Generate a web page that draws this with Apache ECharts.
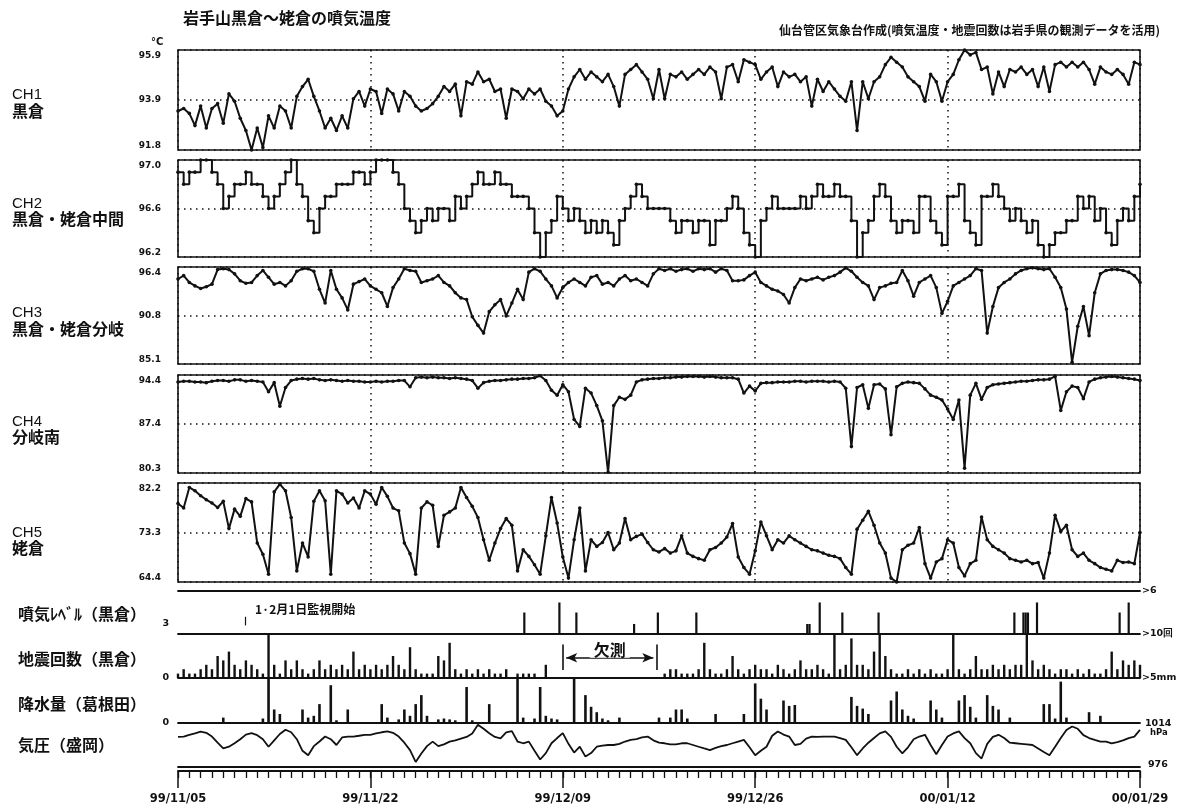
<!DOCTYPE html>
<html><head><meta charset="utf-8">
<script src="https://cdn.jsdelivr.net/npm/echarts@6/dist/echarts.min.js"></script>
<style>html,body{margin:0;padding:0;background:#fff}#c{width:1182px;height:807px}</style>
</head><body><div id="c"></div>
<script>
// ---------------- data (samples every half day from 99/11/05) ----------------
const STEP = 0.5;
const DAYS = 85;
const dateLabels = ['99/11/05','99/11/22','99/12/09','99/12/26','00/01/12','00/01/29'];

const ch1Ticks = ['91.8','93.9','95.9'];
const ch2Ticks = ['96.2','96.6','97.0'];
const ch3Ticks = ['85.1','90.8','96.4'];
const ch4Ticks = ['80.3','87.4','94.4'];
const ch5Ticks = ['64.4','73.3','82.2'];

const ch1 = [
93.4,93.5,93.3,92.8,93.6,92.7,93.5,93.7,92.9,94.1,
93.8,93.1,92.6,91.8,92.7,91.9,93.2,92.7,93.6,93.4,
92.7,94.0,94.4,94.7,94.0,93.4,92.7,93.1,92.6,93.2,
92.7,93.9,94.2,93.6,94.3,94.2,93.3,94.3,94.1,93.4,
94.2,94.0,93.6,93.4,93.5,93.7,94.0,94.4,94.2,94.5,
93.2,94.6,94.5,95.0,94.6,94.7,94.2,94.3,93.1,94.3,
94.2,93.9,94.3,94.1,94.3,93.8,93.6,93.2,93.4,94.3,
94.8,95.1,94.7,95.0,94.8,94.6,94.9,94.4,93.6,94.9,
95.1,95.3,95.0,94.7,93.9,95.1,93.9,94.9,94.8,95.0,
94.7,94.9,95.1,94.9,95.2,95.0,93.9,95.2,95.3,94.6,
95.5,95.4,95.3,94.7,95.0,95.2,94.4,95.0,94.8,94.9,
94.6,94.8,93.6,94.7,94.2,94.6,94.3,94.0,93.8,94.6,
92.6,94.6,93.9,94.6,94.8,95.3,95.6,95.4,95.2,94.8,
94.6,94.4,93.8,94.9,94.6,93.8,94.6,94.9,95.5,95.9,
95.7,95.8,95.1,95.2,94.1,95.0,94.4,95.1,95.0,95.2,
94.9,95.1,94.4,95.2,94.2,95.3,95.4,95.2,95.4,95.2,
95.4,95.1,94.5,95.2,95.0,94.9,95.1,94.9,94.5,95.4,
95.3];

const ch2 = [
96.9,96.8,96.9,96.9,97.0,97.0,96.9,96.8,96.6,96.7,
96.8,96.8,96.9,96.8,96.8,96.7,96.6,96.7,96.8,96.9,
97.0,96.8,96.7,96.5,96.4,96.6,96.7,96.7,96.8,96.8,
96.8,96.9,96.9,96.8,96.9,97.0,97.0,97.0,96.9,96.8,
96.6,96.5,96.4,96.5,96.6,96.5,96.6,96.6,96.5,96.7,
96.6,96.7,96.8,96.9,96.8,96.8,96.9,96.8,96.8,96.7,
96.7,96.7,96.6,96.4,96.2,96.4,96.5,96.7,96.6,96.5,
96.6,96.5,96.4,96.5,96.4,96.5,96.4,96.3,96.5,96.6,
96.7,96.8,96.7,96.6,96.6,96.6,96.6,96.5,96.4,96.5,
96.5,96.4,96.5,96.5,96.3,96.5,96.5,96.6,96.7,96.6,
96.4,96.3,96.2,96.5,96.6,96.7,96.6,96.6,96.6,96.6,
96.7,96.6,96.7,96.8,96.7,96.7,96.8,96.7,96.7,96.5,
96.2,96.4,96.5,96.7,96.8,96.7,96.5,96.4,96.5,96.5,
96.4,96.7,96.7,96.5,96.4,96.3,96.7,96.7,96.8,96.5,
96.4,96.3,96.7,96.7,96.8,96.7,96.6,96.5,96.6,96.5,
96.4,96.5,96.3,96.2,96.3,96.4,96.4,96.5,96.5,96.7,
96.6,96.7,96.5,96.6,96.4,96.3,96.5,96.6,96.5,96.7,
96.8];

const ch3 = [
95.0,95.4,94.6,94.2,93.9,94.1,94.4,96.1,96.2,96.1,
95.6,94.8,94.5,94.6,95.4,96.0,95.2,94.4,94.6,94.2,
94.8,95.9,96.2,96.2,95.9,93.8,92.2,96.0,93.8,92.8,
91.4,94.4,94.7,95.0,94.2,93.8,93.4,91.8,94.0,95.0,
96.2,96.0,95.9,94.6,94.8,95.0,95.4,94.6,94.2,93.4,
92.8,92.6,90.6,89.6,88.7,91.2,92.0,92.6,90.7,92.2,
93.8,92.6,95.8,96.2,95.9,95.0,94.2,92.8,94.0,94.6,
95.0,94.6,94.2,95.2,95.4,94.4,94.6,94.2,95.0,95.4,
94.8,95.0,94.6,94.2,95.6,96.2,96.0,96.2,95.9,96.1,
96.2,95.9,96.2,96.1,96.2,95.8,96.2,96.0,94.8,94.8,
94.9,95.4,95.8,94.6,94.2,93.8,93.6,93.2,92.2,94.0,
95.0,94.8,95.0,95.2,94.9,95.2,95.4,95.8,96.3,95.9,
95.2,94.6,94.2,92.6,94.0,94.2,94.5,94.6,96.0,94.8,
93.0,94.6,95.0,95.4,94.0,91.0,92.4,94.2,94.6,95.0,
95.4,96.2,96.0,88.7,91.8,94.0,94.6,95.0,95.6,96.0,
96.2,96.3,96.2,96.1,96.2,95.2,94.0,91.5,85.3,89.5,
91.8,88.4,93.4,95.6,96.0,96.1,96.1,96.0,95.8,95.4,
94.6];

const ch4 = [
93.4,93.5,93.5,93.4,93.4,93.3,93.5,93.6,93.6,93.5,
93.7,93.7,93.5,93.6,93.5,93.4,92.0,93.3,89.9,92.6,
93.6,93.8,93.9,93.8,93.9,93.7,93.6,93.7,93.6,93.5,
93.6,93.5,93.5,93.4,93.4,93.5,93.4,93.5,93.5,93.6,
93.6,92.7,94.0,94.1,94.0,94.1,94.0,94.0,93.9,94.0,
93.9,93.8,93.6,92.5,93.3,93.5,93.6,93.6,93.7,93.8,
93.8,93.9,93.9,94.0,94.3,93.6,92.2,91.5,93.0,92.0,
88.0,87.0,92.5,91.8,90.0,87.8,80.4,90.0,91.2,90.9,
91.5,93.4,93.7,93.8,93.9,93.9,94.0,94.0,94.1,94.1,
94.2,94.2,94.2,94.1,94.2,94.1,94.0,94.0,94.0,93.8,
91.8,92.8,92.1,93.2,93.3,93.3,93.4,93.4,93.4,93.5,
93.5,93.4,93.5,93.5,93.5,93.4,93.5,93.4,92.5,84.1,
92.6,93.0,89.6,93.0,93.1,92.4,85.8,92.7,93.2,93.4,
93.3,93.2,92.4,91.5,91.2,90.8,89.5,88.0,90.8,81.0,
91.5,93.2,90.9,92.6,93.0,93.1,93.2,93.3,93.4,93.5,
93.5,93.6,93.7,93.7,93.8,94.2,89.3,92.0,92.8,92.6,
91.0,93.4,93.8,94.0,94.1,94.2,94.1,94.0,93.9,93.8,
93.6];

const ch5 = [
78.5,77.7,81.4,80.8,79.9,79.2,78.6,77.8,78.9,74.0,
77.5,76.2,79.4,78.8,71.4,69.4,65.8,80.6,82.0,80.8,
76.0,66.4,71.4,68.9,78.9,80.8,79.0,65.8,80.8,80.2,
78.6,79.5,77.7,80.8,80.2,78.4,81.4,79.8,77.7,77.2,
71.4,69.5,65.8,77.7,78.8,78.2,70.8,76.4,77.0,77.7,
81.4,79.6,78.0,76.0,72.0,68.3,71.4,74.0,75.8,74.6,
66.4,70.2,69.0,67.5,65.8,72.7,79.6,75.0,68.9,65.1,
72.0,77.7,66.4,72.0,70.8,71.5,73.3,70.2,71.4,75.8,
72.0,72.6,73.0,71.5,70.2,69.8,70.4,69.6,70.0,72.7,
69.6,69.0,68.6,68.3,70.2,70.6,71.4,72.5,74.9,68.9,
67.0,65.8,70.0,75.2,72.7,70.2,72.0,71.4,72.7,72.0,
71.4,70.8,70.2,70.0,69.6,69.2,69.0,68.6,67.0,65.8,
73.9,75.5,77.1,74.6,71.4,69.6,65.1,64.4,70.2,71.0,
71.4,74.2,67.7,65.1,68.0,68.6,72.0,71.4,67.0,65.5,
67.7,68.3,76.1,72.0,70.8,70.2,69.6,68.6,68.3,68.0,
68.3,67.7,67.9,65.1,69.6,76.4,73.5,74.6,70.2,69.0,
69.6,68.3,67.7,67.0,66.7,66.4,68.3,67.9,68.0,67.7,
73.3];

// 噴気レベル events: day offset and level
const levelDays   = [30.6,33.7,35.2,40.3,42.4,45.8,55.6,55.8,56.7,58.7,61.9,73.9,74.7,74.9,75.1,75.9,83.2,84.0];
const levelValues = [4.5, 5.2, 4.5, 3.7, 4.5, 4.5, 3.7, 3.7, 5.2, 4.5, 4.5, 4.5, 4.5, 4.5, 4.5, 5.2, 4.5, 5.2];

// 地震回数 (null = 欠測)
const quakes = [
1,2,1,1,2,3,2,5,4,6,
3,2,4,3,2,1,10,3,1,4,
2,4,2,1,2,4,2,3,2,3,
2,6,2,3,2,3,2,3,5,3,
2,7,2,1,1,1,5,4,8,2,
1,2,1,2,1,2,1,1,2,0,
1,1,1,1,0,3,0,null,null,null,
null,null,null,null,null,null,null,null,null,null,
null,null,null,null,null,null,1,2,2,1,
1,1,2,8,2,1,1,2,5,2,
1,2,3,2,2,1,3,2,1,2,
4,2,2,3,2,1,10,2,3,9,
3,3,2,6,10,5,2,1,1,2,
1,2,1,2,1,1,2,10,2,1,
2,5,2,2,3,2,3,2,3,3,
10,4,2,3,2,1,2,2,1,2,
1,2,1,1,2,6,2,4,3,4,
3];

// 降水量 (mm)
const rain = [
0,0,0,0,0,0,0,0,0.6,0,
0,0,0,0,0,0.5,5,1.5,1,0,
0,0,1.5,0.6,0.8,2.1,0,4.2,0.3,0,
1.5,0,0,0,0,0,2.1,0.6,0,0.4,
1.5,0.8,2.1,3.1,0.8,0,0.4,0.5,0.4,0.3,
0,4,0.3,0,0,2.1,0,0,0,0,
5,0.6,0,0.5,4,0.8,0.5,0.4,0,0,
5,0,3.1,1.8,1.2,0.5,0.3,0,0.6,0,
0,0,0,0,0,0.6,0,0.6,1.5,1.5,
0.5,0,0,0,0,1,0,0,0,0,
1,0,4.4,2.7,1.5,0,0,2.5,1.9,2.0,
0,0,0,0,0,0,0,0,0,2.9,
1.9,1.6,1.0,0,0,0,2.5,3.5,1.5,0.8,
0.5,0,0,2.5,1.5,0.6,0,0,2.5,3.1,
1.8,0.6,0,3.1,1.9,1.5,0,0.6,0,0,
0,0,0,2.1,2.1,0.5,4.6,0.6,0,0,
0,1.2,0,0.8,0,0,0,0,0,0,
0];

// 気圧 (hPa)
const pressure = [
1002,1002.3,1003.8,1005,1006.5,1005.5,1002.3,997,992.1,993.5,
996.5,1000,1004,1005.2,1003.5,1000,993.5,999,1004.5,1008.2,
1006,1000,990,986.2,994,998,1002.3,1000,995,1001.5,
1002.3,1002.3,1003,1003.8,1003.8,1005,1006,1006.7,1005.5,1002.3,
997,990.6,980.4,987.7,994,997.9,994,995.5,997.9,999,
1000.5,1002,1005,1012.5,1009,1005.2,1002,1000.8,1006,1007,
998,996.5,997.9,990,982.5,988,996.5,1001,1005.2,996,
988.5,993.5,985,988,993.5,994.5,995,995,996,998,
999.4,1000,1001.5,1002.3,999,997,996.5,995.5,995.5,996.5,
996.5,995,993.5,992,990.6,992.5,994,995,996.5,998,
999.4,993,986.2,990,993.5,1003,1006.7,1004,1002.3,995,
996,1000.5,1002.3,1002,1002.3,1002.3,1002.3,1001,999.4,993,
986.2,992,997,1001,1005,1006.7,1002,993.5,987.7,993,
1000,1002.3,1003.8,995,987,995,1002.3,1005,1006.7,1001,
996.5,988,983.3,996,1002,1003.8,1001,997,996.5,996,
995.5,995,992,989,986.2,993.5,1001,1008,1011,1009,
1003.5,1001,999.4,998,997.9,996.5,997.5,999,1001,1002.3,
1008];

const chNames = [['CH1','黒倉'],['CH2','黒倉・姥倉中間'],['CH3','黒倉・姥倉分岐'],['CH4','分岐南'],['CH5','姥倉']];
const barNames = ['噴気ﾚﾍﾞﾙ（黒倉）','地震回数（黒倉）','降水量（葛根田）','気圧（盛岡）'];

// ---------------- chart ----------------
const INK = '#111';
const NUM = 'DejaVu Sans';
const JP = 'Noto Sans CJK JP';
const L = 178, R = 42;
const chLayout = [[50,100],[160,97],[267,97],[375,98],[483,99]];
const barLayout = [[591,43],[634,44],[678,45],[723,44]];
const chSeries = [ch1,ch2,ch3,ch4,ch5];
const chTicks = [ch1Ticks,ch2Ticks,ch3Ticks,ch4Ticks,ch5Ticks];

const pairs = arr => arr.map((v,i)=>[i*STEP, v]);

const grid = [];
chLayout.forEach(([t,h])=>grid.push({left:L,right:R,top:t,height:h,show:true,borderColor:INK,borderWidth:1.6,backgroundColor:'transparent'}));
barLayout.forEach(([t,h])=>grid.push({left:L,right:R,top:t,height:h}));
grid.push({left:L,right:R,top:770,height:1});

const dotted = {color:INK,width:1.5,type:[1.5,4.5]};
const xAxis = [];
for (let i=0;i<5;i++) xAxis.push({gridIndex:i,type:'value',min:0,max:DAYS,interval:17,
  axisLine:{show:false},axisTick:{show:false},axisLabel:{show:false},splitLine:{show:true,lineStyle:dotted}});
for (let i=5;i<9;i++) xAxis.push({gridIndex:i,type:'value',min:0,max:DAYS,position:'bottom',
  axisLine:{show:true,onZero:false,lineStyle:{color:INK,width:1.8}},axisTick:{show:false},axisLabel:{show:false},splitLine:{show:false}});
xAxis.push({gridIndex:5,type:'value',min:0,max:DAYS,position:'top',
  axisLine:{show:true,onZero:false,lineStyle:{color:INK,width:1.8}},axisTick:{show:false},axisLabel:{show:false},splitLine:{show:false}});
xAxis.push({gridIndex:9,type:'value',min:0,max:DAYS,interval:1,position:'bottom',
  axisLine:{show:true,onZero:false,lineStyle:{color:INK,width:1.8}},axisTick:{show:true,length:7,lineStyle:{color:INK,width:1.3}},axisLabel:{show:false},splitLine:{show:false}});
xAxis.push({gridIndex:9,type:'value',min:0,max:DAYS,interval:17,position:'bottom',
  axisLine:{show:false,onZero:false},axisTick:{show:true,length:17,lineStyle:{color:INK,width:1.5}},
  axisLabel:{show:true,margin:22,color:INK,fontFamily:NUM,fontWeight:'bold',fontSize:11.5,
    showMinLabel:true,showMaxLabel:true,formatter:v=>dateLabels[Math.round(v/17)]},splitLine:{show:false}});

const yAxis = [];
chTicks.forEach((tk,i)=>{
  const mn = +tk[0], mx = +tk[2];
  const iv = Math.round((mx-mn)/2*10000)/10000;
  yAxis.push({gridIndex:i,type:'value',min:mn,max:mx,interval:iv,
    axisLine:{show:false},axisTick:{show:false},splitLine:{show:true,lineStyle:dotted},
    axisLabel:{show:true,margin:17,color:INK,fontFamily:NUM,fontWeight:'bold',fontSize:9,
      showMinLabel:true,showMaxLabel:true,
      formatter:v=>{ if(Math.abs(v-mn)<1e-6) return '{b|'+tk[0]+'}'; if(Math.abs(v-mx)<1e-6) return '{t|'+tk[2]+'}'; return '{m|'+tk[1]+'}'; },
      rich:{t:{padding:[12,0,0,0],fontFamily:NUM,fontWeight:'bold',fontSize:9,color:INK},
            m:{fontFamily:NUM,fontWeight:'bold',fontSize:9,color:INK},
            b:{padding:[0,0,9,0],fontFamily:NUM,fontWeight:'bold',fontSize:9,color:INK}}}});
});
const barRanges = [[3,6],[0,10],[0,5],[976,1014]];
const leftLab = ['3','0','0',''];
const rightLabMax = ['>6','>10回','>5mm','1014'];
barRanges.forEach(([mn,mx],k)=>{
  yAxis.push({gridIndex:5+k,type:'value',min:mn,max:mx,interval:mx-mn,position:'left',
    axisLine:{show:false},axisTick:{show:false},splitLine:{show:false},
    axisLabel:{show:true,margin:9,color:INK,fontFamily:NUM,fontWeight:'bold',fontSize:9.5,
      formatter:v=> (Math.abs(v-mn)<1e-6 && leftLab[k]) ? (k===0?'{u|'+leftLab[k]+'}':leftLab[k]) : '',
      rich:{u:{padding:[0,0,20,0],fontFamily:NUM,fontWeight:'bold',fontSize:9.5,color:INK}}}});
});
barRanges.forEach(([mn,mx],k)=>{
  yAxis.push({gridIndex:5+k,type:'value',min:mn,max:mx,interval:mx-mn,position:'right',
    axisLine:{show:false},axisTick:{show:false},splitLine:{show:false},
    axisLabel:{show:true,margin:2,color:INK,fontFamily:NUM,fontWeight:'bold',fontSize:9.5,
      formatter:v=>{
        if (Math.abs(v-mx)<1e-6) return k===3 ? '{p|'+rightLabMax[k]+'}\n{h|hPa}' : rightLabMax[k];
        if (k===3 && Math.abs(v-mn)<1e-6) return '{q|976}';
        return '';
      },
      rich:{p:{padding:[10,0,0,3],fontFamily:NUM,fontWeight:'bold',fontSize:9.5,color:INK},
            h:{padding:[0,0,0,8],fontFamily:NUM,fontWeight:'bold',fontSize:8.5,color:INK},
            q:{padding:[0,0,4,6],fontFamily:NUM,fontWeight:'bold',fontSize:9.5,color:INK}}}});
});
yAxis.push({gridIndex:9,type:'value',min:0,max:1,show:false});

const series = [];
chSeries.forEach((arr,i)=>{
  series.push({type:'line',xAxisIndex:i,yAxisIndex:i,data:pairs(arr),step:i===1?'end':false,
    symbol:'circle',symbolSize:3.6,showSymbol:true,showAllSymbol:true,
    lineStyle:{color:INK,width:2},itemStyle:{color:INK},animation:false,silent:true,clip:true});
});
series.push({type:'bar',xAxisIndex:5,yAxisIndex:5,data:levelDays.map((d,i)=>[d,levelValues[i]]),
  barWidth:2.2,itemStyle:{color:INK},animation:false,silent:true,clip:true,
  markLine:{silent:true,animation:false,symbol:['none','none'],label:{show:false},
    lineStyle:{color:INK,width:1.2,type:'solid'},
    data:[[{coord:[5.9,3.6]},{coord:[5.9,4.2]}]]}});
series.push({type:'bar',xAxisIndex:6,yAxisIndex:6,data:pairs(quakes),
  barWidth:2.4,itemStyle:{color:INK},animation:false,silent:true,clip:true,
  markLine:{silent:true,animation:false,symbol:['arrow','arrow'],symbolSize:[7,11],
    lineStyle:{color:INK,width:1.6,type:'solid'},label:{show:false},
    data:[
      [{coord:[34.3,4.6],label:{show:true,position:'middle',distance:0,formatter:'欠測',color:INK,
         fontFamily:JP,fontWeight:'bold',fontSize:16,backgroundColor:'#fff',padding:[0,4]}},{coord:[42.0,4.6]}],
      [{coord:[34.0,1.8],symbol:'none'},{coord:[34.0,7.6],symbol:'none'}],
      [{coord:[42.3,1.8],symbol:'none'},{coord:[42.3,7.6],symbol:'none'}]
    ]}});
series.push({type:'bar',xAxisIndex:7,yAxisIndex:7,data:pairs(rain),
  barWidth:2.6,itemStyle:{color:INK},animation:false,silent:true,clip:true});
series.push({type:'line',xAxisIndex:8,yAxisIndex:8,data:pairs(pressure),showSymbol:false,
  lineStyle:{color:INK,width:1.8},animation:false,silent:true});

const graphic = [
  {type:'text',x:183,y:10,style:{text:'岩手山黒倉～姥倉の噴気温度',font:'bold 16px "Noto Sans CJK JP"',fill:INK}},
  {type:'text',x:1160,y:24,style:{text:'仙台管区気象台作成(噴気温度・地震回数は岩手県の観測データを活用)',font:'bold 12px "Noto Sans CJK JP"',fill:INK,textAlign:'right',align:'right'}},
  {type:'text',x:151,y:37,style:{text:'°C',font:'bold 10px "DejaVu Sans"',fill:INK}},
  {type:'text',x:255,y:603,style:{text:'1·2月1日監視開始',font:'bold 12px "Noto Sans CJK JP"',fill:INK}}
];
const chNameY = [[95,111],[204,219],[313,329],[422,437],[533,548]];
chNames.forEach((nm,i)=>{
  graphic.push({type:'text',x:12,y:chNameY[i][0]-8,style:{text:nm[0],font:'15px "Liberation Sans"',fill:INK}});
  graphic.push({type:'text',x:12,y:chNameY[i][1]-8,style:{text:nm[1],font:'bold 16px "Noto Sans CJK JP"',fill:INK}});
});
const barNameY = [615,660,705,746];
barNames.forEach((nm,i)=>{
  graphic.push({type:'text',x:18,y:barNameY[i]-9,style:{text:nm,font:'bold 16px "Noto Sans CJK JP"',fill:INK}});
});

const chart = echarts.init(document.getElementById('c'));
chart.setOption({animation:false,backgroundColor:'#fff',grid,xAxis,yAxis,series,graphic});
</script>
</body></html>
